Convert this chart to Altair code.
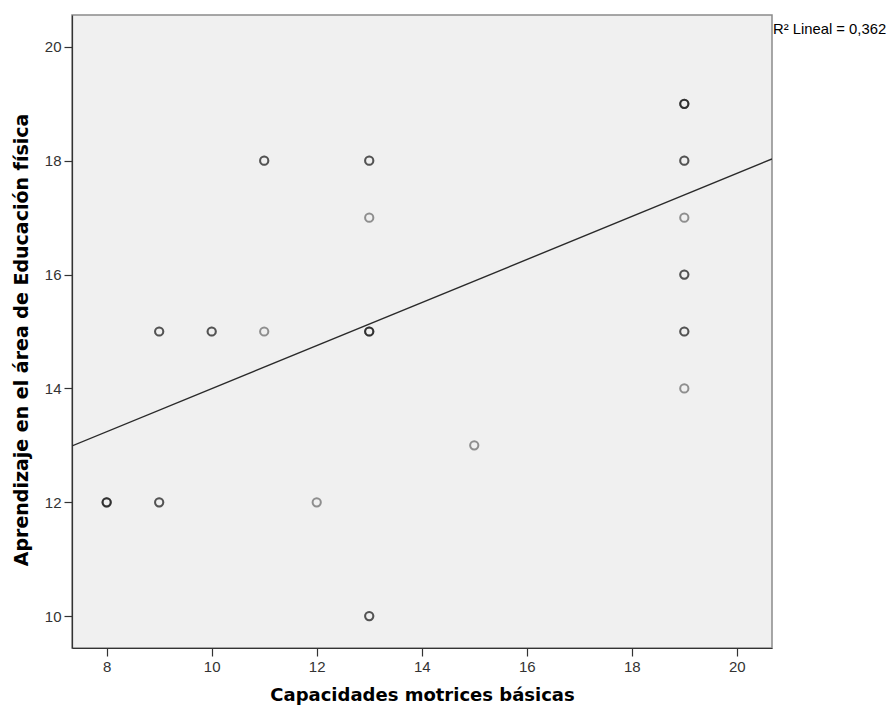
import altair as alt
import pandas as pd

# Observations (overlapping cases repeated -> darker rings)
cap_x = [8, 8, 8, 9, 9, 9, 9, 10, 10, 11, 11, 11, 12,
         13, 13, 13, 13, 13, 13, 13, 13, 15,
         19, 19, 19, 19, 19, 19, 19, 19, 19, 19, 19]
apr_y = [12, 12, 12, 15, 15, 12, 12, 15, 15, 18, 18, 15, 12,
         18, 18, 17, 15, 15, 15, 10, 10, 13,
         19, 19, 19, 18, 18, 17, 16, 16, 15, 15, 14]

# Linear fit line (read at plot edges)
fit_x = [7.34, 20.67]
fit_y = [12.99, 18.03]

x_ticks = [8, 10, 12, 14, 16, 18, 20]
y_ticks = [10, 12, 14, 16, 18, 20]
x_domain = [7.34, 20.67]
y_domain = [9.44, 20.56]
r2_label = ["R\u00b2 Lineal = 0,362"]

W, H = 700, 633

pts = pd.DataFrame({"x": cap_x, "y": apr_y})
fit = pd.DataFrame({"x": fit_x, "y": fit_y})
lab = pd.DataFrame({"t": r2_label})

xscale = alt.Scale(domain=x_domain, nice=False, zero=False)
yscale = alt.Scale(domain=y_domain, nice=False, zero=False)

xaxis = alt.Axis(title="Capacidades motrices básicas", values=x_ticks, grid=False,
                 tickSize=8, labelPadding=3, titlePadding=12)
yaxis = alt.Axis(title="Aprendizaje en el área de Educación física", values=y_ticks,
                 grid=False, tickSize=8, labelPadding=3, titlePadding=13,
                 titleY=H / 2 + 8, titleFontSize=19)

X = alt.X("x:Q", scale=xscale, axis=xaxis)
Y = alt.Y("y:Q", scale=yscale, axis=yaxis)

points = alt.Chart(pts).mark_point(
    shape="circle", filled=False, size=68, strokeWidth=2,
    color="black", strokeOpacity=0.58
).encode(x=X, y=Y)

line = alt.Chart(fit).mark_line(color="#2a2a2a", strokeWidth=1.4, clip=True).encode(x=X, y=Y)

text = alt.Chart(lab).mark_text(
    align="left", baseline="alphabetic", font="Liberation Sans", fontSize=14.8, color="black"
).encode(x=alt.value(W + 1), y=alt.value(19), text="t:N")

chart = alt.layer(line, points, text).properties(
    width=W, height=H,
    autosize=alt.AutoSizeParams(type="none"),
    padding={"left": 64, "top": 7, "right": 115, "bottom": 57},
).configure_view(
    fill="#f0f0f0", stroke="#8a8a8a", strokeWidth=1.5
).configure_axis(
    domainColor="#333333", domainWidth=1.2, tickColor="#333333", tickWidth=1.2,
    labelColor="#333333", labelFont="Liberation Sans", labelFontSize=15,
    titleFont="DejaVu Sans", titleFontSize=18, titleFontWeight="bold", titleColor="black"
)

chart.save("out.html", embed_options={"renderer": "svg", "actions": False})
